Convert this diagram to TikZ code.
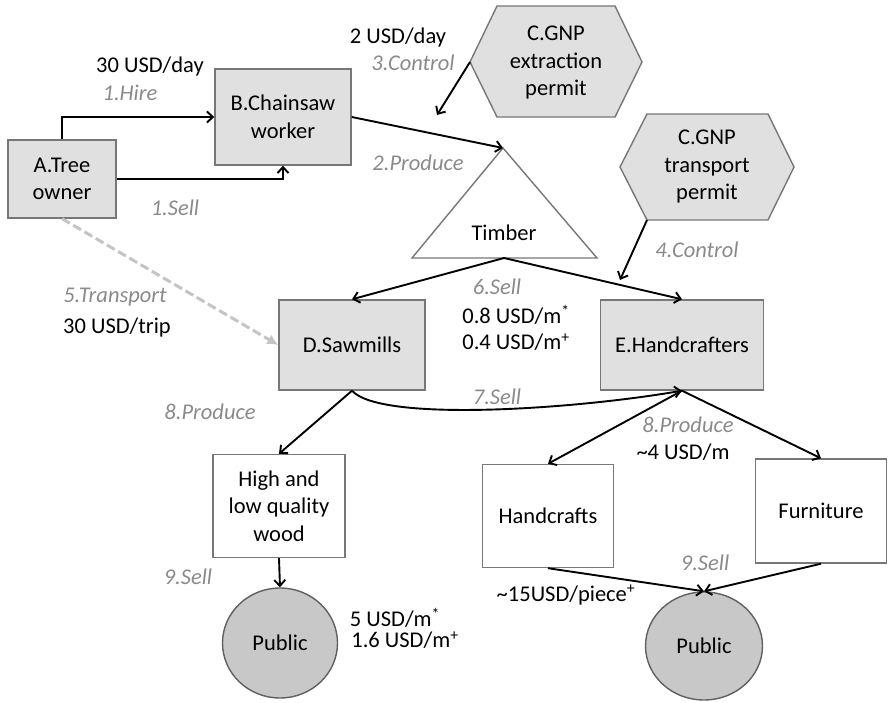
\documentclass[tikz,border=0pt]{standalone}
\usepackage{fontspec}
\setmainfont{Carlito}
\usetikzlibrary{arrows.meta,shapes.geometric}
\definecolor{boxfill}{HTML}{E0E0E0}
\definecolor{boxline}{HTML}{777777}
\definecolor{pubfill}{HTML}{C8C8C8}
\definecolor{publine}{HTML}{606060}
\definecolor{lblgray}{HTML}{8A8A8A}
\definecolor{dashgray}{HTML}{C4C4C4}
\begin{document}
\begin{tikzpicture}[x=1pt,y=-1pt, font=\fontsize{22.5}{27.5}\selectfont,
 graybox/.style={draw=boxline, fill=boxfill, line width=1.4pt, inner sep=0pt, align=center},
 whitebox/.style={draw=boxline, fill=white, line width=1.4pt, inner sep=0pt, align=center},
 pub/.style={ellipse, draw=publine, fill=pubfill, line width=1.4pt, inner sep=0pt},
 hexa/.style={draw=boxline, fill=boxfill, line width=1.4pt},
 flow/.style={draw=black, line width=1.9pt, -{Straight Barb[length=6pt,width=11pt]}},
 dashflow/.style={draw=dashgray, line width=3pt, dash pattern=on 9pt off 4pt, -{Latex[length=11pt,width=11pt]}},
 lbl/.style={text=lblgray, font=\fontsize{22.5}{27.5}\selectfont\itshape, inner sep=0pt},
 val/.style={inner sep=0pt, align=left},
]
\useasboundingbox (0,0) rectangle (888,703);

% hexagons
\draw[hexa] (470,62) coordinate (C1w) -- (497,6) -- (615,6) -- (642,62) -- (615,117) -- (497,117) -- cycle;
\node[align=center, inner sep=0pt] (C1) at (556,63) {C.GNP\\extraction\\permit};
\draw[hexa] (620,167) -- (647,114) -- (768,114) -- (794,167) -- (768,220) coordinate (C2se) -- (647,220) coordinate (C2sw) -- cycle;
\node[align=center, inner sep=0pt] (C2) at (707,167) {C.GNP\\transport\\permit};

% triangle
\draw[draw=boxline, fill=white, line width=1.4pt] (503,148) coordinate (Tapex) -- (597,258) -- (412,258) -- cycle;
\coordinate (Tbase) at (504,258);
\node[inner sep=0pt] (T) at (504,233) {Timber};

% boxes
\node[graybox, minimum width=108, minimum height=78] (A) at (62,179) {A.Tree\\owner};
\node[graybox, minimum width=136, minimum height=96] (B) at (283,117) {B.Chainsaw\\worker};
\node[graybox, minimum width=146, minimum height=90] (D) at (352,345) {D.Sawmills};
\node[graybox, minimum width=163, minimum height=90] (E) at (682,345) {E.Handcrafters};
\node[whitebox, minimum width=132, minimum height=103] (W) at (279,506) {High and\\low quality\\wood};
\node[whitebox, minimum width=131, minimum height=103] (H) at (548,516) {Handcrafts};
\node[whitebox, minimum width=131, minimum height=104] (F) at (821,511) {Furniture};
\node[pub, minimum width=115, minimum height=110] (P1) at (280,643) {Public};
\node[pub, minimum width=117, minimum height=108] (P2) at (704,646) {Public};

\coordinate (c3end) at (437,115);
\coordinate (c4end) at (620,280);

% connectors
\draw[flow] (A.north) |- (B.west);
\draw[flow] (A.east) -| (B.south);
\draw[flow] (B.east) -- (Tapex);
\draw[flow] (C1w) -- (c3end);
\draw[flow] (C2sw) -- (c4end);
\draw[flow] (Tbase) -- (D.north);
\draw[flow] (Tbase) -- (E.north);
\draw[dashflow] (A.south) -- (D.west);
\draw[flow] (D.south) .. controls (380,422) and (570,410) .. (E.south);
\draw[flow] (D.south) -- (W.north);
\draw[flow] (E.south) -- (H.north);
\draw[flow] (E.south) -- (F.north);
\draw[flow] (W.south) -- (P1.north);
\draw[flow] (H.south) -- (P2.north);
\draw[flow] (F.south) -- (P2.north);

% labels
\node[val] (l1) at (150,67) {30 USD/day};
\node[lbl] (l2) at (130,93) {1.Hire};
\node[lbl] (l3) at (175,208) {1.Sell};
\node[val] (l4) at (398,38) {2 USD/day};
\node[lbl] (l5) at (413,63) {3.Control};
\node[lbl] (l6) at (418,163) {2.Produce};
\node[lbl] (l7) at (697,250) {4.Control};
\node[lbl] (l8) at (497,287) {6.Sell};
\node[val] (l9) at (516,315) {0.8 USD/m\textsuperscript{*}};
\node[val] (l10) at (516,342) {0.4 USD/m\textsuperscript{+}};
\node[lbl] (l11) at (115,297) {5.Transport};
\node[val] (l12) at (117,328) {30 USD/trip};
\node[lbl] (l13) at (210,412) {8.Produce};
\node[lbl] (l14) at (497,397) {7.Sell};
\node[lbl] (l15) at (688,425) {8.Produce};
\node[val] (l16) at (683,452) {\textasciitilde 4 USD/m};
\node[lbl] (l17) at (188,577) {9.Sell};
\node[val] (l18) at (395,618) {5 USD/m\textsuperscript{*}};
\node[val] (l19) at (405,640) {1.6 USD/m\textsuperscript{+}};
\node[lbl] (l20) at (705,563) {9.Sell};
\node[val] (l21) at (566,595) {\textasciitilde 15USD/piece\textsuperscript{+}};
\end{tikzpicture}
\end{document}
